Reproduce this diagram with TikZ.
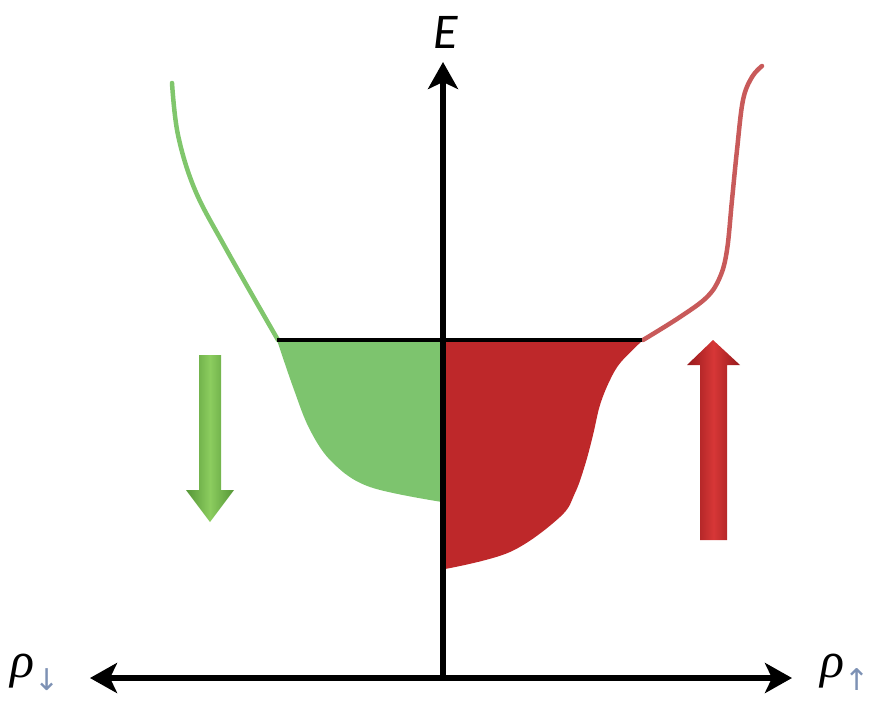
\documentclass[tikz,border=0pt]{standalone}
\usepackage{fontspec}
\setmainfont{Carlito}
\newfontfamily\arrowfont{DejaVu Sans}
\newfontfamily\greekfont{Liberation Serif}
\usetikzlibrary{arrows.meta}
\definecolor{upred}{RGB}{190,40,42}
\definecolor{upredline}{RGB}{200,90,90}
\definecolor{uparrowdark}{RGB}{150,25,28}
\definecolor{uparrowlight}{RGB}{215,55,55}
\definecolor{dngreen}{RGB}{125,196,110}
\definecolor{dngreenline}{RGB}{128,198,108}
\definecolor{dnarrowdark}{RGB}{85,150,55}
\definecolor{dnarrowlight}{RGB}{140,205,95}
\definecolor{spingray}{RGB}{125,145,180}
\newcommand{\spinsub}[1]{\raisebox{-13pt}{\fontsize{30}{30}\selectfont\arrowfont\upshape\color{spingray}#1}}
\tikzset{
  axtip/.tip={Stealth[length=27pt,width=30pt,inset=7pt]},
  axis/.style={line width=6pt, draw=black},
  fermi/.style={line width=4.5pt, draw=black},
  dos/.style={line width=4.5pt, line cap=round},
  lbl/.style={font=\fontsize{50}{60}\selectfont\itshape, inner sep=0pt},
  rholbl/.style={font=\fontsize{50}{60}\selectfont\greekfont\itshape, inner sep=0pt}
}
\begin{document}
\begin{tikzpicture}[x=1pt, y=-1pt]
  \useasboundingbox (0,0) rectangle (872,704);
  % axes
  \coordinate (orig) at (443,678);
  \coordinate (etop) at (443,62);
  \coordinate (rhodn) at (90,678);
  \coordinate (rhoup) at (792,678);
  % Fermi level
  \coordinate (ef) at (443,340);
  \coordinate (efl) at (277,340);
  \coordinate (efr) at (642,340);
  % filled spin-down states
  \fill[dngreen] plot[smooth, tension=0.6] coordinates {(277,340) (293,387) (310,430) (333,463) (370,487) (442,502)} -- (ef) -- cycle;
  % filled spin-up states
  \fill[upred] plot[smooth, tension=0.6] coordinates {(445,569) (510,552) (560,517) (575,493) (585,465) (593,435) (600,405) (610,380) (621,362) (643,340)} -- (ef) -- cycle;
  % empty states
  \draw[dos, dngreenline] plot[smooth, tension=0.6] coordinates {(172,83) (178,135) (195,190) (225,247) (278,340)};
  \draw[dos, upredline] plot[smooth, tension=0.6] coordinates {(643,340) (680,317) (707,297) (720,277) (727,250) (732,200) (737,150) (743,100) (752,77) (762,66)};
  \draw[fermi] (efl) -- (efr);
  \draw[axis, -axtip] (orig) -- (etop);
  \draw[axis, axtip-axtip] (rhodn) -- (rhoup);
  % spin arrows
  \shade[left color=dnarrowdark, right color=dnarrowdark, middle color=dnarrowlight]
    (199,355) -- (221,355) -- (221,490) -- (234,490) -- (210,522) -- (186,490) -- (199,490) -- cycle;
  \shade[left color=uparrowdark, right color=uparrowdark, middle color=uparrowlight]
    (700,540) -- (727,540) -- (727,365) -- (740,365) -- (713,340) -- (687,365) -- (700,365) -- cycle;
  % labels
  \node[lbl] (elabel) at (446,32) {E};
  \node[rholbl, anchor=base west] (rhodnlabel) at (10,677) {ρ\spinsub{↓}};
  \node[rholbl, anchor=base west] (rhouplabel) at (820,677) {ρ\spinsub{↑}};
\end{tikzpicture}
\end{document}
